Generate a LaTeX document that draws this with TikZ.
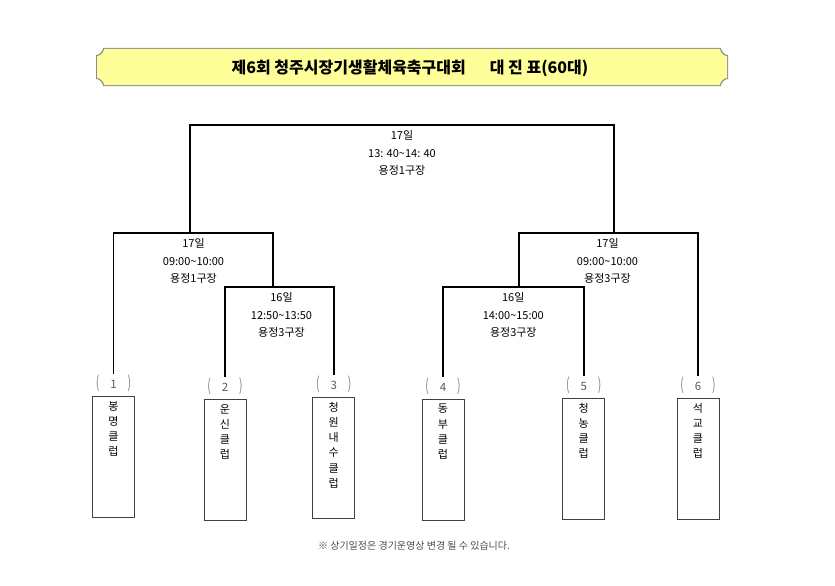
\documentclass[tikz,border=0pt]{standalone}
\usepackage{fontspec}
\setmainfont{Noto Sans CJK KR}
\usepackage{tikz}
\usetikzlibrary{positioning, calc}
\definecolor{banner}{HTML}{FFFF99}
\definecolor{bannerline}{HTML}{8C8C8C}
\definecolor{numgray}{HTML}{5A5A5A}
\newcommand{\Paren}[1]{{\color{gray}\scalebox{0.9}[1.45]{#1}}}
\newcommand{\Num}[1]{\Paren{(}\hspace{11pt}#1\hspace{11pt}\Paren{)}}
\tikzset{
    team/.style={draw=black!75, line width=0.8pt, minimum width=42pt, minimum height=121pt, anchor=north, inner sep=0pt},
    teamname/.style={anchor=north, align=center, font=\fontsize{11}{15.2}\selectfont, inner sep=0pt},
    num/.style={font=\fontsize{11.5}{12}\selectfont, text=numgray, inner sep=1pt},
    match/.style={anchor=north, align=center, font=\fontsize{11}{17.8}\selectfont, inner sep=0pt},
    bracket/.style={line width=1.7pt},
}

\begin{document}
\begin{tikzpicture}[x=1pt, y=-1pt]
    \useasboundingbox (0,0) rectangle (835,586);

    % title banner
    \fill[bannerline] (103,48) -- (721,48)
      .. controls (721,51.3) and (724.3,55) .. (728,55) -- (728,79)
      .. controls (724.3,79) and (721,82.7) .. (721,86) -- (103,86)
      .. controls (103,82.7) and (99.7,79) .. (96,79) -- (96,55)
      .. controls (99.7,55) and (103,51.3) .. (103,48) -- cycle;
    \fill[banner] (104,49) -- (720,49)
      .. controls (720,51.8) and (723.2,56) .. (727,56) -- (727,78)
      .. controls (723.2,78) and (720,82.2) .. (720,85) -- (104,85)
      .. controls (104,82.2) and (100.8,78) .. (97,78) -- (97,56)
      .. controls (100.8,56) and (104,51.8) .. (104,49) -- cycle;
    \node[font=\fontsize{16}{18}\selectfont\bfseries] (title) at (410,68)
      {제6회 청주시장기생활체육축구대회\hspace{1.5em}대 진 표(60대)};

    % teams
    \node[team] (t1) at (113.5,396) {};
    \node[team] (t2) at (225,399) {};
    \node[team] (t3) at (333.7,397) {};
    \node[team] (t4) at (443,399) {};
    \node[team] (t5) at (583.8,398) {};
    \node[team] (t6) at (698,398) {};

    \node[teamname, below=5pt of t1.north] (l1) {봉\\명\\클\\럽};
    \node[teamname, below=5pt of t2.north] (l2) {운\\신\\클\\럽};
    \node[teamname, below=5pt of t3.north] (l3) {청\\원\\내\\수\\클\\럽};
    \node[teamname, below=5pt of t4.north] (l4) {동\\부\\클\\럽};
    \node[teamname, below=5pt of t5.north] (l5) {청\\농\\클\\럽};
    \node[teamname, below=5pt of t6.north] (l6) {석\\교\\클\\럽};

    \node[num, above=3pt of t1] (n1) {\Num{1}};
    \node[num, above=3pt of t2] (n2) {\Num{2}};
    \node[num, above=3pt of t3] (n3) {\Num{3}};
    \node[num, above=3pt of t4] (n4) {\Num{4}};
    \node[num, above=3pt of t5] (n5) {\Num{5}};
    \node[num, above=3pt of t6] (n6) {\Num{6}};

    % bracket junctions
    \coordinate (c1) at (272.7,287);
    \coordinate (c2) at (190,233);
    \coordinate (c3) at (519,287);
    \coordinate (c4) at (614,233);
    \coordinate (c5) at (402,125);

    \draw[bracket] (n2.north) |- (c1) -| (n3.north);
    \draw[bracket] (n1.north) |- (c2) -| (c1);
    \draw[bracket] (n4.north) |- (c3) -| (n5.north);
    \draw[bracket] (c3) |- (c4) -| (n6.north);
    \draw[bracket] (c2) |- (c5) -| (c4);

    % match info
    \node[match] (m1) at (281.5,292) {16일\\12:50\textasciitilde13:50\\용정3구장};
    \node[match] (m2) at (193.5,238) {17일\\09:00\textasciitilde10:00\\용정1구장};
    \node[match] (m3) at (513.3,292) {16일\\14:00\textasciitilde15:00\\용정3구장};
    \node[match] (m4) at (607.5,238) {17일\\09:00\textasciitilde10:00\\용정3구장};
    \node[match] (m5) at (402,130) {17일\\13: 40\textasciitilde14: 40\\용정1구장};

    \node[font=\fontsize{10}{12}\selectfont, text=black!70] (note) at (414,546)
      {※ 상기일정은 경기운영상 변경 될 수 있습니다.};
\end{tikzpicture}
\end{document}
